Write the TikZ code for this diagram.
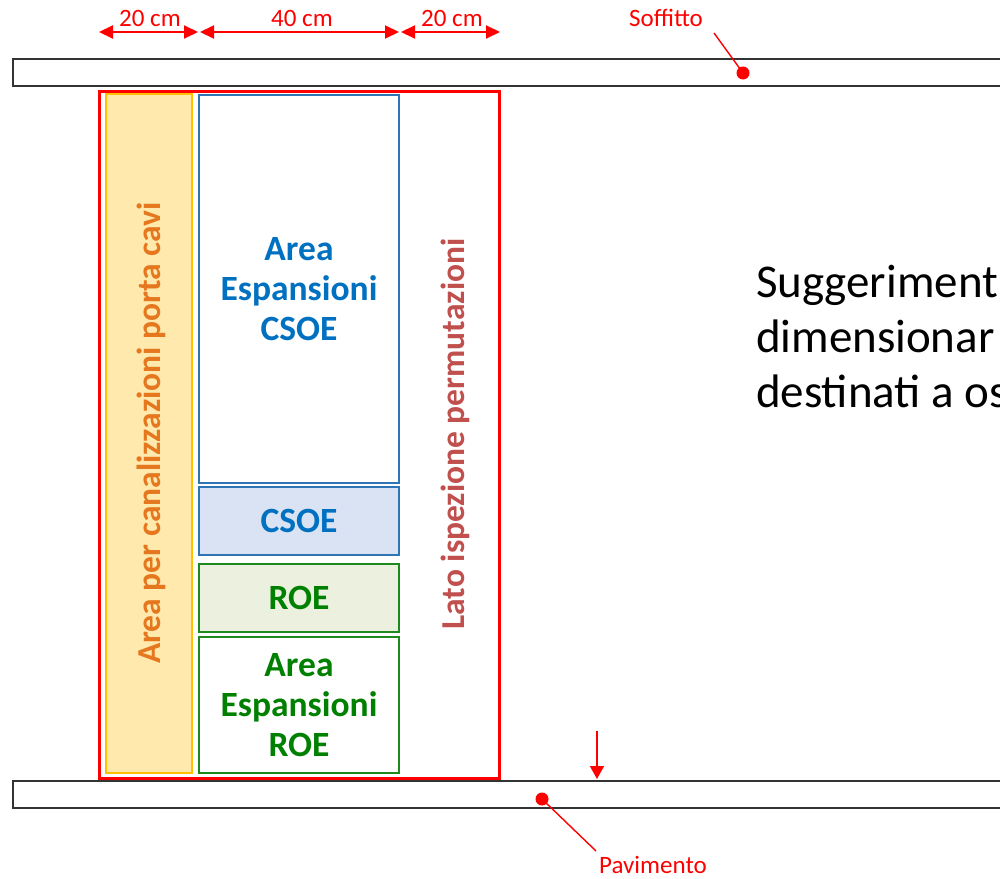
\documentclass[tikz,border=0pt]{standalone}
\usepackage{fontspec}
\setmainfont{Carlito}
\usetikzlibrary{arrows.meta}

\definecolor{redline}{HTML}{FF0000}
\definecolor{goldfill}{HTML}{FFE9AD}
\definecolor{goldline}{HTML}{FFC000}
\definecolor{bluetext}{HTML}{0070C0}
\definecolor{blueline}{HTML}{2E75B6}
\definecolor{bluefill}{HTML}{DAE3F3}
\definecolor{greentext}{HTML}{008000}
\definecolor{greenline}{HTML}{1E8A1E}
\definecolor{greenfill}{HTML}{EBF1DE}
\definecolor{orangetext}{HTML}{E5771E}
\definecolor{inspect}{HTML}{C0504D}

\begin{document}
\begin{tikzpicture}[x=1pt,y=-1pt,
  every node/.style={inner sep=0pt,outer sep=0pt},
  slab/.style={draw=black!80,line width=1.3pt,fill=white,anchor=north west,
    minimum width=1000pt,minimum height=27pt},
  frame/.style={draw=redline,line width=3pt,anchor=north west},
  panel/.style={line width=1.4pt,anchor=north west,minimum width=200pt,
    align=center,font=\fontsize{35.5}{40}\selectfont\bfseries},
  bluepanel/.style={panel,draw=blueline,text=bluetext},
  greenpanel/.style={panel,draw=greenline,text=greentext},
  sidelabel/.style={rotate=90,font=\fontsize{33.5}{40}\selectfont\bfseries},
  smalllabel/.style={text=redline,font=\fontsize{25}{30}\selectfont},
  dimarrow/.style={draw=redline,line width=2pt,
    {Triangle[length=14pt,width=13pt]}-{Triangle[length=14pt,width=13pt]}},
  downarrow/.style={draw=redline,line width=1.5pt,-{Triangle[length=13pt,width=14pt]}},
  leader/.style={draw=redline,line width=1.4pt},
  dot/.style={circle,fill=redline,minimum size=13pt},
  bigtext/.style={anchor=base west,font=\fontsize{47}{55}\selectfont}]

\useasboundingbox (0,0) rectangle (1000,878);
\clip (0,0) rectangle (1000,878);

% ceiling and floor slabs
\node[slab] (ceiling) at (13,59) {};
\node[slab] (floor) at (13,781) {};

% overall cabinet outline
\node[frame,minimum width=400pt,minimum height=687pt] (cabinet) at (99,91) {};

% cable duct area
\node[draw=goldline,fill=goldfill,line width=1.4pt,anchor=north west,
  minimum width=86pt,minimum height=679pt] (duct) at (106,94) {};
\node[sidelabel,text=orangetext] (ductlabel) at (151,433) {Area per canalizzazioni porta cavi};

% central equipment column
\node[bluepanel,minimum height=388pt] (expcsoe) at (199,95) {Area\\Espansioni\\CSOE};
\node[bluepanel,fill=bluefill,minimum height=68pt] (csoe) at (199,487) {CSOE};
\node[greenpanel,fill=greenfill,minimum height=68pt] (roe) at (199,564) {ROE};
\node[greenpanel,minimum height=136pt] (exproe) at (199,637) {Area\\Espansioni\\ROE};

% inspection side
\node[sidelabel,text=inspect] (inspection) at (455,434) {Lato ispezione permutazioni};

% width dimensions
\coordinate (d0a) at (99,32);
\coordinate (d0b) at (198,32);
\coordinate (d1a) at (200,32);
\coordinate (d1b) at (399,32);
\coordinate (d2a) at (401,32);
\coordinate (d2b) at (500,32);
\draw[dimarrow] (d0a) -- (d0b);
\draw[dimarrow] (d1a) -- (d1b);
\draw[dimarrow] (d2a) -- (d2b);
\node[smalllabel,anchor=base] (w1) at (150,26) {20 cm};
\node[smalllabel,anchor=base] (w2) at (302,26) {40 cm};
\node[smalllabel,anchor=base] (w3) at (452,26) {20 cm};

% ceiling callout
\node[dot] (ceildot) at (743,73) {};
\coordinate (ceilend) at (714,33);
\draw[leader] (ceildot.center) -- (ceilend);
\node[smalllabel,anchor=base] (ceillabel) at (666,27) {Soffitto};

% floor callout
\node[dot] (floordot) at (542,799) {};
\coordinate (floorend) at (596,851);
\draw[leader] (floordot.center) -- (floorend);
\node[smalllabel,anchor=base] (floorlabel) at (653,873) {Pavimento};

% clearance marker above the floor
\coordinate (clrtop) at (597,731);
\coordinate (clrtip) at (597,779);
\draw[downarrow] (clrtop) -- (clrtip);

% side note, running past the right edge
\node[bigtext] (note1) at (756,297) {Suggeriment};
\node[bigtext] (note2) at (756,352) {dimensionar};
\node[bigtext] (note3) at (756,407) {destinati a os};

\end{tikzpicture}
\end{document}
